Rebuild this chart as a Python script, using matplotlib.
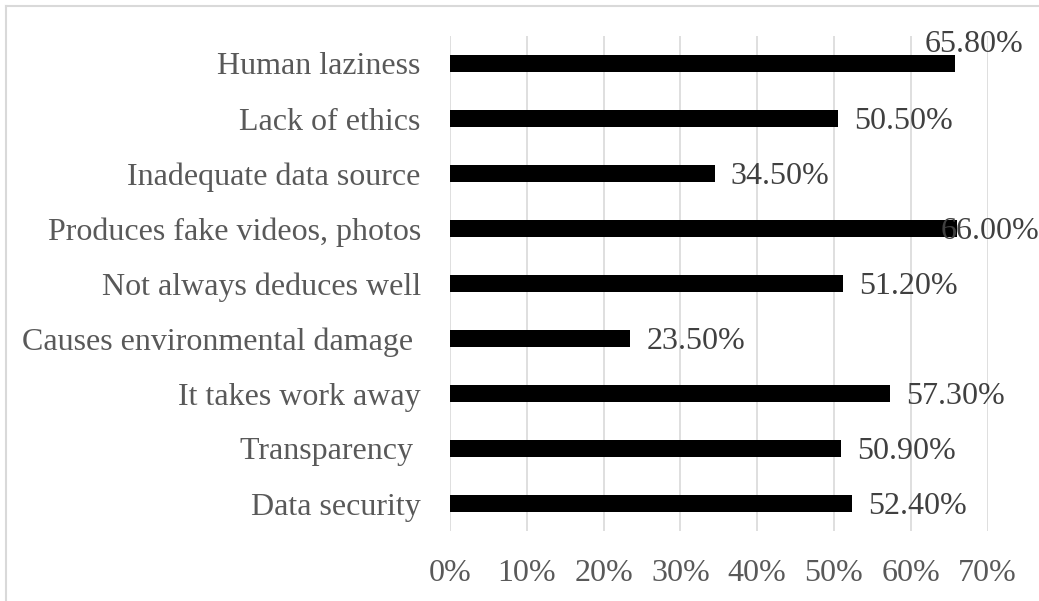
import matplotlib
matplotlib.use("Agg")
import matplotlib.pyplot as plt
from matplotlib.lines import Line2D
from matplotlib.ticker import FuncFormatter

# Survey results: perceived problems with AI (share of respondents, %)
categories = [
    "Data security",
    "Transparency ",
    "It takes work away",
    "Causes environmental damage ",
    "Not always deduces well",
    "Produces fake videos, photos",
    "Inadequate data source",
    "Lack of ethics",
    "Human laziness",
]
values = [52.4, 50.9, 57.3, 23.5, 51.2, 66.0, 34.5, 50.5, 65.8]
value_labels = ["52.40%", "50.90%", "57.30%", "23.50%", "51.20%",
                "66.00%", "34.50%", "50.50%", "65.80%"]
x_ticks = [0, 10, 20, 30, 40, 50, 60, 70]

# label placement offsets (points) relative to the bar end
label_dx = [11.5, 11.5, 11.5, 11.5, 11.5, -11.5, 11.5, 11.5, -22.3]
label_dy = [-2, -2, -2, -2, -2, -2, -2, -2, 13.4]

plt.rcParams["font.family"] = ["Liberation Serif", "DejaVu Serif"]
FS = 23

W, H = 1039, 601
fig = plt.figure(figsize=(W / 100, H / 100), dpi=100)
ax = fig.add_axes([450 / W, 1 - 531 / H, 537.5 / W, 495 / H])

y = list(range(len(categories)))
ax.barh(y, values, height=0.31, color="black", zorder=3)

ax.set_xlim(0, 70)
ax.set_ylim(-0.5, len(categories) - 0.5)
ax.set_xticks(x_ticks)
ax.xaxis.set_major_formatter(FuncFormatter(lambda v, p: f"{v:.0f}%"))
ax.set_yticks(y)
ax.set_yticklabels(categories)

ax.grid(axis="x", color="#d9d9d9", linewidth=1.2, zorder=0)
ax.grid(axis="y", visible=False)
for s in ax.spines.values():
    s.set_visible(False)
ax.tick_params(axis="both", length=0, labelsize=FS, labelcolor="#595959")
ax.tick_params(axis="y", pad=21)
ax.tick_params(axis="x", pad=20)

for yi, v, lab, dx, dy in zip(y, values, value_labels, label_dx, label_dy):
    ax.annotate(lab, xy=(v, yi), xytext=(dx, dy), textcoords="offset points",
                ha="left", va="center", fontsize=FS, color="#404040", zorder=4)

# chart-area border (top and left edges)
bc = "#d9d9d9"
fig.add_artist(Line2D([6 / W, 6 / W], [0, 1 - 6 / H], transform=fig.transFigure,
                      color=bc, linewidth=1.5))
fig.add_artist(Line2D([6 / W, 1], [1 - 6 / H, 1 - 6 / H], transform=fig.transFigure,
                      color=bc, linewidth=1.5))

fig.savefig("out.png", dpi=100, facecolor="white")
